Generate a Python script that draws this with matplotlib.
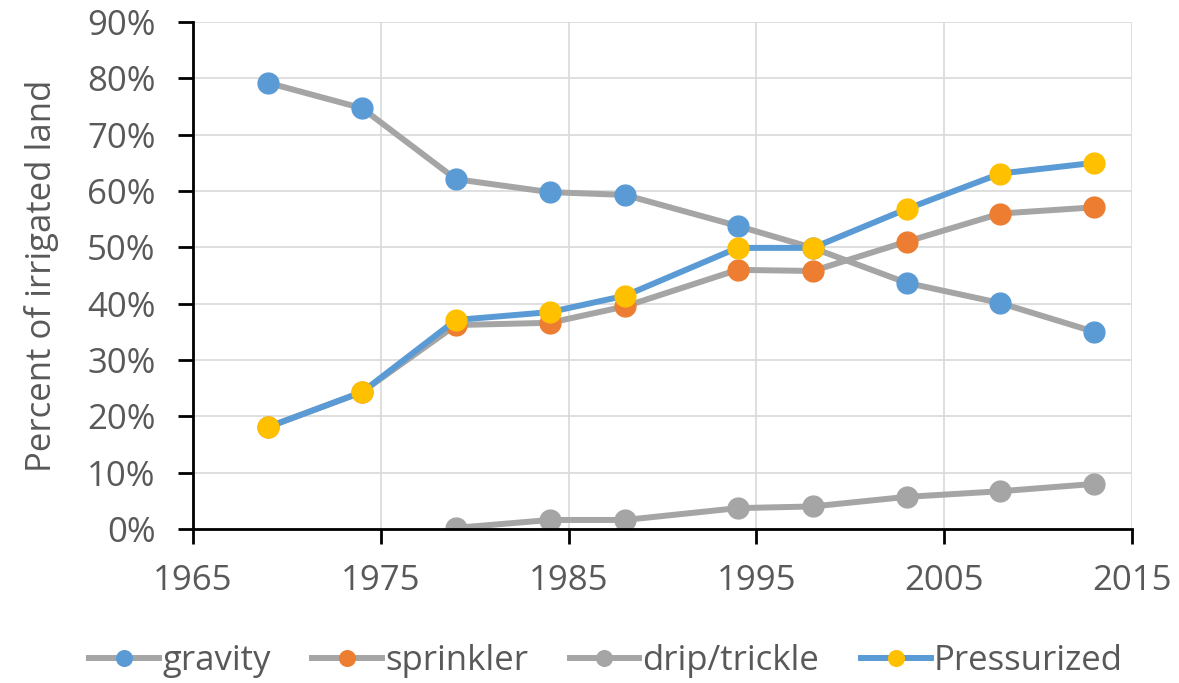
import matplotlib.pyplot as plt
from matplotlib.ticker import FuncFormatter

# share of irrigated land by method
years = [1969, 1974, 1979, 1984, 1988, 1994, 1998, 2003, 2008, 2013]
gravity = [79.2, 74.7, 62.1, 59.8, 59.3, 53.8, 49.9, 43.7, 40.1, 35.0]
sprinkler = [18.1, 24.3, 36.2, 36.6, 39.5, 46.0, 45.8, 51.0, 56.0, 57.1]
drip_years = [1979, 1984, 1988, 1994, 1998, 2003, 2008, 2013]
drip = [0.2, 1.6, 1.6, 3.7, 4.0, 5.7, 6.7, 8.0]
pressurized = [18.1, 24.3, 37.1, 38.5, 41.4, 49.9, 49.9, 56.8, 63.1, 65.0]

plt.rcParams['font.family'] = ['Open Sans', 'DejaVu Sans']
txt = '#595959'

fig = plt.figure(figsize=(11.79, 6.83), dpi=100)
ax = fig.add_axes([0.1637, 0.2255, 0.7963, 0.7423])

lw = 4.3
ms = 15
ax.plot(years, gravity, color='#A5A5A5', lw=lw, marker='o', ms=ms,
        mfc='#5B9BD5', mec='#5B9BD5', label='gravity')
ax.plot(years, sprinkler, color='#A5A5A5', lw=lw, marker='o', ms=ms,
        mfc='#ED7D31', mec='#ED7D31', label='sprinkler')
ax.plot(drip_years, drip, color='#A5A5A5', lw=lw, marker='o', ms=ms,
        mfc='#A5A5A5', mec='#A5A5A5', label='drip/trickle')
ax.plot(years, pressurized, color='#5B9BD5', lw=lw, marker='o', ms=ms,
        mfc='#FFC000', mec='#FFC000', label='Pressurized')

ax.set_xlim(1965, 2015)
ax.set_ylim(0, 90)
ax.set_xticks(range(1965, 2016, 10))
ax.set_yticks(range(0, 91, 10))
ax.yaxis.set_major_formatter(FuncFormatter(lambda v, p: f'{v:.0f}%'))

ax.grid(True, color='#D9D9D9', lw=1.2)
ax.set_axisbelow(True)
for s in ['top', 'right']:
    ax.spines[s].set_visible(False)
for s in ['left', 'bottom']:
    ax.spines[s].set_linewidth(2)
    ax.spines[s].set_color('black')
ax.tick_params(axis='both', direction='out', length=11, width=2,
               labelsize=25, labelcolor=txt)
ax.tick_params(axis='y', pad=16)
ax.tick_params(axis='x', pad=14)

ax.set_ylabel('Percent of irrigated land', fontsize=25, color=txt, labelpad=20)

ax.legend(loc='upper center', bbox_to_anchor=(0.44, -0.165), ncol=4,
          frameon=False, fontsize=25, labelcolor=txt, handlelength=2.0,
          handletextpad=0.1, columnspacing=1.2, markerscale=0.75)

fig.savefig('out.png', dpi=100)
